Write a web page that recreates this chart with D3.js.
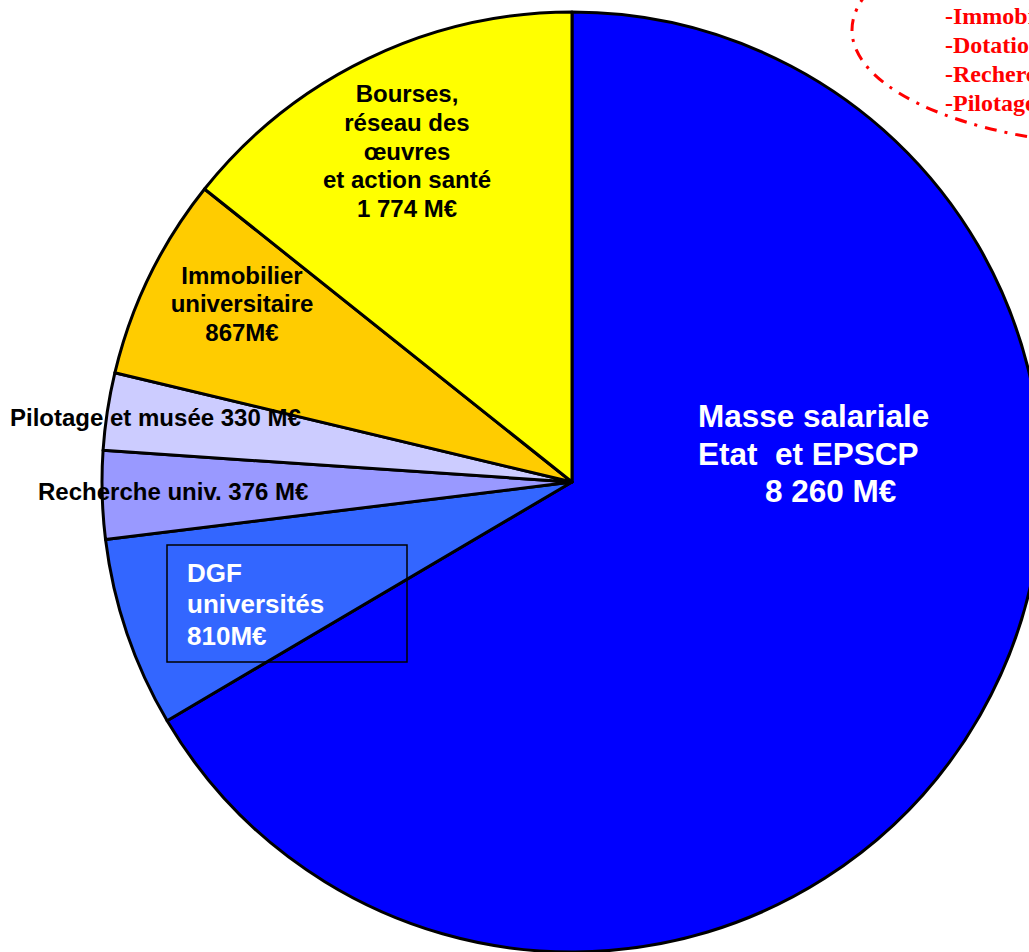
<!DOCTYPE html>
<html><head><meta charset="utf-8">
<script src="https://cdn.jsdelivr.net/npm/d3@7"></script>
<style>body{margin:0;background:#fff;overflow:hidden}svg{display:block}</style>
</head><body>
<script>
const categories = ["Masse salariale", "DGF universités", "Recherche univ.", "Pilotage et musée", "Immobilier universitaire", "Bourses, réseau des œuvres et action santé"];
const values = [8260, 810, 376, 330, 867, 1774];
const colors = ["#0000FF", "#3366FF", "#9999FF", "#CCCCFF", "#FFCC00", "#FFFF00"];
const noteLines = ["-Immobilier", "-Dotation", "-Recherche", "-Pilotage"];

const W = 1029, H = 952;
const svg = d3.select("body").append("svg").attr("width", W).attr("height", H);
svg.append("rect").attr("width", W).attr("height", H).attr("fill", "#fff");

const cx = 572, cy = 482, R = 470;
const pie = d3.pie().sort(null).value(d => d.v);
const arc = d3.arc().innerRadius(0).outerRadius(R);
const data = values.map((v, i) => ({v, c: colors[i], name: categories[i]}));
const g = svg.append("g").attr("transform", `translate(${cx},${cy})`);
g.selectAll("path").data(pie(data)).join("path")
  .attr("d", arc).attr("fill", d => d.data.c)
  .attr("stroke", "#000").attr("stroke-width", 3).attr("stroke-linejoin", "round");

const font = "'Liberation Sans', Arial, sans-serif";
function lines(x, ys, texts, size, color, anchor) {
  texts.forEach((t, i) => {
    svg.append("text").attr("x", Array.isArray(x) ? x[i] : x).attr("y", ys[i])
      .attr("font-family", font).attr("font-weight", "bold").attr("font-size", size)
      .attr("fill", color).attr("text-anchor", anchor).style("white-space", "pre").text(t);
  });
}
// Masse salariale
lines([698, 698, 765], [427, 465, 502], ["Masse salariale", "Etat  et EPSCP", "8 260 M€"], 31.5, "#fff", "start");
// Bourses
lines(407, [102, 131, 160, 188, 217], ["Bourses,", "réseau des", "œuvres", "et action santé", "1 774 M€"], 24, "#000", "middle");
// Immobilier
lines(242, [284, 312, 341], ["Immobilier", "universitaire", "867M€"], 24, "#000", "middle");
// Pilotage / Recherche
lines(10, [426], ["Pilotage et musée 330 M€"], 24, "#000", "start");
lines(38, [500], ["Recherche univ. 376 M€"], 24, "#000", "start");
// DGF box
svg.append("rect").attr("x", 167).attr("y", 545).attr("width", 240).attr("height", 117)
  .attr("fill", "none").attr("stroke", "#000").attr("stroke-width", 1.5);
lines(187, [582, 613, 645], ["DGF", "universités", "810M€"], 26, "#fff", "start");

// red note
svg.append("ellipse").attr("cx", 1150).attr("cy", 30).attr("rx", 298).attr("ry", 117)
  .attr("fill", "none").attr("stroke", "#FF0000").attr("stroke-width", 3)
  .attr("stroke-dasharray", "12,8,3,8");
noteLines.forEach((t, i) => {
  svg.append("text").attr("x", 945).attr("y", [24, 53, 82, 111][i])
    .attr("font-family", "'Liberation Serif', 'Times New Roman', serif").attr("font-weight", "bold")
    .attr("font-size", 24).attr("fill", "#FF0000").text(t);
});
</script>
</body></html>
